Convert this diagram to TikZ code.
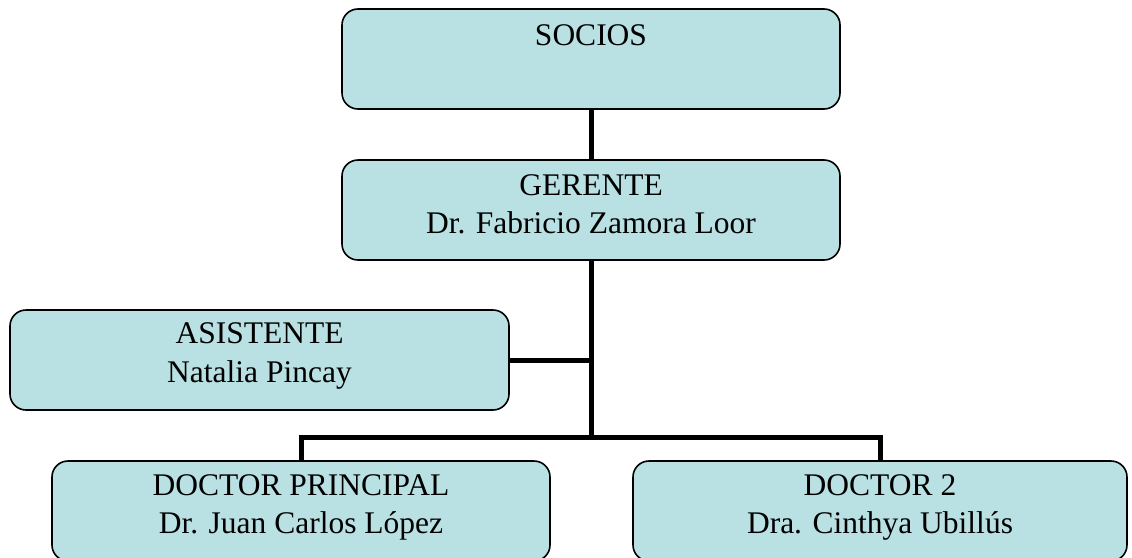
\documentclass[tikz,border=0pt]{standalone}
\usepackage{fontspec}
\setmainfont{Liberation Serif}
\definecolor{boxfill}{RGB}{185,224,227}
\tikzset{
  orgbox/.style={draw=black, line width=1.6pt, fill=boxfill, rounded corners=16pt, inner sep=0pt},
  orgtext/.style={anchor=base, inner sep=0pt, font=\fontsize{31.5}{38}\selectfont},
  link/.style={draw=black, line width=5pt}
}
\begin{document}
\begin{tikzpicture}[x=1pt,y=-1pt]
\useasboundingbox (0,0) rectangle (1132,557);
\clip (0,0) rectangle (1132,557);
\node[orgbox, minimum width=498pt, minimum height=100pt] (socios) at (591,59) {};
\node[orgbox, minimum width=498pt, minimum height=100pt] (gerente) at (591,210) {};
\node[orgbox, minimum width=499pt, minimum height=100pt] (asist) at (259.5,360) {};
\node[orgbox, minimum width=498pt, minimum height=100pt] (dp) at (301,511) {};
\node[orgbox, minimum width=494pt, minimum height=100pt] (d2) at (880,511) {};
\coordinate (jA) at (591,360);
\coordinate (jB) at (591,437);
\draw[link] (socios.south) -- (gerente.north);
\draw[link] (gerente.south) -- (jB);
\draw[link] (asist.east) -- (jA);
\draw[link] (dp.north) |- (jB) -| (d2.north);
\node[orgtext] (t1) at (591,45) {SOCIOS};
\node[orgtext] (t2) at (591,195) {GERENTE};
\node[orgtext] (t3) at (591,233) {Dr. Fabricio Zamora Loor};
\node[orgtext] (t4) at (259.5,343) {ASISTENTE};
\node[orgtext] (t5) at (259.5,382) {Natalia Pincay};
\node[orgtext] (t6) at (301,495) {DOCTOR PRINCIPAL};
\node[orgtext] (t7) at (301,533) {Dr. Juan Carlos López};
\node[orgtext] (t8) at (880,495) {DOCTOR 2};
\node[orgtext] (t9) at (880,533) {Dra. Cinthya Ubillús};
\end{tikzpicture}
\end{document}
